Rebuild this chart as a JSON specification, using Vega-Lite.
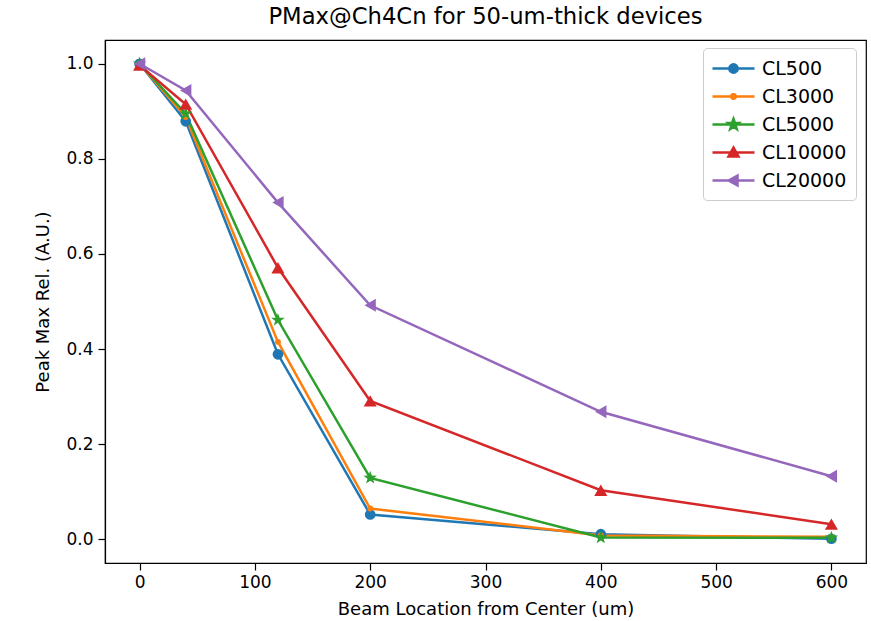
{
  "$schema": "https://vega.github.io/schema/vega-lite/v6.json",
  "width": 761,
  "height": 523,
  "autosize": {"type": "none"},
  "padding": {"left": 105, "top": 40, "right": 5, "bottom": 58},
  "background": "white",
  "title": {
    "text": "PMax@Ch4Cn for 50-um-thick devices",
    "fontSize": 22.7,
    "fontWeight": "normal",
    "color": "black",
    "anchor": "middle",
    "frame": "group",
    "baseline": "alphabetic",
    "offset": -7
  },
  "data": {
    "values": [
      {"series": "CL500", "marker": "o", "x": 0, "y": 1.0},
      {"series": "CL500", "marker": "o", "x": 40, "y": 0.879},
      {"series": "CL500", "marker": "o", "x": 120, "y": 0.389},
      {"series": "CL500", "marker": "o", "x": 200, "y": 0.052},
      {"series": "CL500", "marker": "o", "x": 400, "y": 0.0105},
      {"series": "CL500", "marker": "o", "x": 600, "y": 0.001},
      {"series": "CL3000", "marker": ".", "x": 0, "y": 1.0},
      {"series": "CL3000", "marker": ".", "x": 40, "y": 0.888},
      {"series": "CL3000", "marker": ".", "x": 120, "y": 0.415},
      {"series": "CL3000", "marker": ".", "x": 200, "y": 0.0646},
      {"series": "CL3000", "marker": ".", "x": 400, "y": 0.008},
      {"series": "CL3000", "marker": ".", "x": 600, "y": 0.005},
      {"series": "CL5000", "marker": "*", "x": 0, "y": 1.0},
      {"series": "CL5000", "marker": "*", "x": 40, "y": 0.895},
      {"series": "CL5000", "marker": "*", "x": 120, "y": 0.461},
      {"series": "CL5000", "marker": "*", "x": 200, "y": 0.129},
      {"series": "CL5000", "marker": "*", "x": 400, "y": 0.0035},
      {"series": "CL5000", "marker": "*", "x": 600, "y": 0.003},
      {"series": "CL10000", "marker": "^", "x": 0, "y": 0.997},
      {"series": "CL10000", "marker": "^", "x": 40, "y": 0.915},
      {"series": "CL10000", "marker": "^", "x": 120, "y": 0.571},
      {"series": "CL10000", "marker": "^", "x": 200, "y": 0.291},
      {"series": "CL10000", "marker": "^", "x": 400, "y": 0.103},
      {"series": "CL10000", "marker": "^", "x": 600, "y": 0.0316},
      {"series": "CL20000", "marker": "<", "x": 0, "y": 1.0},
      {"series": "CL20000", "marker": "<", "x": 40, "y": 0.944},
      {"series": "CL20000", "marker": "<", "x": 120, "y": 0.708},
      {"series": "CL20000", "marker": "<", "x": 200, "y": 0.492},
      {"series": "CL20000", "marker": "<", "x": 400, "y": 0.268},
      {"series": "CL20000", "marker": "<", "x": 600, "y": 0.1326}
    ]
  },
  "encoding": {
    "x": {
      "field": "x",
      "type": "quantitative",
      "scale": {"domain": [-30, 630], "nice": false, "zero": false},
      "axis": {
        "title": "Beam Location from Center (um)",
        "values": [0, 100, 200, 300, 400, 500, 600],
        "labelFlush": false,
        "labelOverlap": false,
        "tickSize": 7,
        "labelPadding": 4,
        "titlePadding": 10
      }
    },
    "y": {
      "field": "y",
      "type": "quantitative",
      "scale": {"domain": [-0.05, 1.05], "nice": false, "zero": false},
      "axis": {
        "title": "Peak Max Rel. (A.U.)",
        "values": [0, 0.2, 0.4, 0.6, 0.8, 1.0],
        "format": ".1f",
        "labelFlush": false,
        "labelOverlap": false,
        "tickSize": 7,
        "labelPadding": 5,
        "titlePadding": 13
      }
    },
    "color": {
      "field": "series",
      "type": "nominal",
      "sort": null,
      "scale": {
        "domain": ["CL500", "CL3000", "CL5000", "CL10000", "CL20000"],
        "range": ["#1f77b4", "#ff7f0e", "#2ca02c", "#d62728", "#9467bd"]
      },
      "legend": {
        "title": null,
        "orient": "none",
        "legendX": 598,
        "legendY": 8,
        "padding": 9,
        "symbolSize": 400,
        "symbolOffset": 10,
        "labelOffset": 17,
        "rowPadding": 6,
        "labelFontSize": 19,
        "labelColor": "black",
        "strokeColor": "#cccccc",
        "fillColor": "white",
        "cornerRadius": 4,
        "encode": {
          "symbols": {
            "update": {
              "shape": {"signal": "datum.value === 'CL500' ? 'M-2.1,0H2.1M0.42,0A0.42,0.42,0,1,1,-0.42,0A0.42,0.42,0,1,1,0.42,0Z' : datum.value === 'CL3000' ? 'M-2.1,0H2.1M0.22,0A0.22,0.22,0,1,1,-0.22,0A0.22,0.22,0,1,1,0.22,0Z' : datum.value === 'CL5000' ? 'M-2.1,0H2.1M0,-0.55L0.13,-0.18L0.52,-0.17L0.21,0.07L0.32,0.45L0,0.22L-0.32,0.45L-0.21,0.07L-0.52,-0.17L-0.13,-0.18Z' : datum.value === 'CL10000' ? 'M-2.1,0H2.1M0,-0.5L0.5,0.4L-0.5,0.4Z' : 'M-2.1,0H2.1M-0.5,0L0.4,-0.5L0.4,0.5Z'"},
              "fill": {"signal": "datum.value === 'CL500' ? '#1f77b4' : datum.value === 'CL3000' ? '#ff7f0e' : datum.value === 'CL5000' ? '#2ca02c' : datum.value === 'CL10000' ? '#d62728' : '#9467bd'"},
              "stroke": {"signal": "datum.value === 'CL500' ? '#1f77b4' : datum.value === 'CL3000' ? '#ff7f0e' : datum.value === 'CL5000' ? '#2ca02c' : datum.value === 'CL10000' ? '#d62728' : '#9467bd'"},
              "strokeWidth": {"value": 2.5}
            }
          }
        }
      }
    }
  },
  "layer": [
    {
      "mark": {"type": "line", "strokeWidth": 2.5},
      "encoding": {}
    },
    {
      "mark": {"type": "point", "filled": true, "opacity": 1},
      "encoding": {
        "shape": {
          "field": "marker",
          "type": "nominal",
          "scale": {
            "domain": ["o", ".", "*", "^", "<"],
            "range": ["circle", "circle", "M0,-1L0.235,-0.324L0.951,-0.309L0.380,0.124L0.588,0.809L0,0.4L-0.588,0.809L-0.380,0.124L-0.951,-0.309L-0.235,-0.324Z", "triangle-up", "triangle-left"]
          },
          "legend": null
        },
        "size": {
          "field": "marker",
          "type": "nominal",
          "scale": {
            "type": "ordinal",
            "domain": ["o", ".", "*", "^", "<"],
            "range": [115, 35, 200, 170, 170]
          },
          "legend": null
        }
      }
    }
  ],
  "config": {
    "font": "DejaVu Sans",
    "view": {"stroke": "black", "strokeWidth": 1.2},
    "axis": {
      "grid": false,
      "domainColor": "black",
      "domainWidth": 1.2,
      "tickColor": "black",
      "tickWidth": 1.2,
      "labelColor": "black",
      "labelFontSize": 17,
      "titleColor": "black",
      "titleFontSize": 18,
      "titleFontWeight": "normal"
    }
  }
}
